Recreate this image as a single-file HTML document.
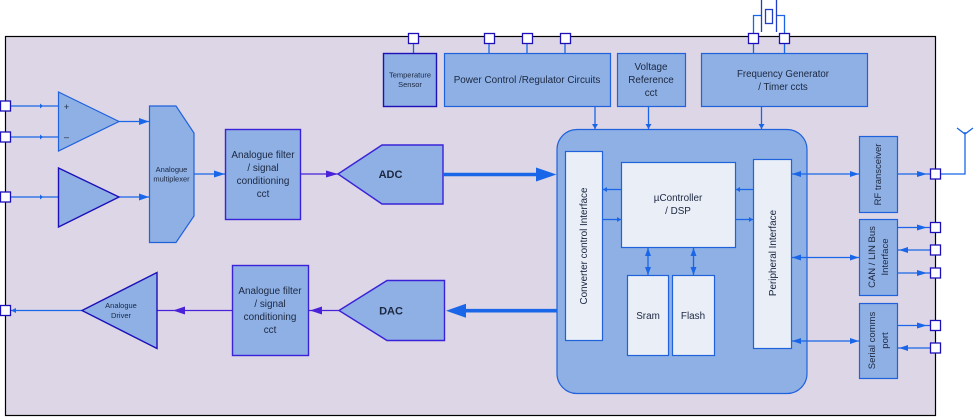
<!DOCTYPE html>
<html><head><meta charset="utf-8"><style>
html,body{margin:0;padding:0;background:#fff;width:974px;height:417px;overflow:hidden}
svg{display:block}
text{font-family:"Liberation Sans",sans-serif;fill:#1c2740;text-anchor:middle}
.b{fill:#8eb0e4;stroke:#1f62dc;stroke-width:1.2}
.d{fill:#8eb0e4;stroke:#1c10b8;stroke-width:1.4}
.p{fill:#8eb0e4;stroke:#3a22d8;stroke-width:1.4}
.l{fill:#e9eef7;stroke:#1f62dc;stroke-width:1.2}
.pin{fill:#fff;stroke:#1c10b8;stroke-width:1.3}
.w{fill:none;stroke:#1a66e8;stroke-width:1.3}
.v{fill:none;stroke:#4a20d8;stroke-width:1.3}
.c{fill:none;stroke:#1f3fc8;stroke-width:1.3}
.a{fill:#1a66e8}
.q{fill:#4a20d8}
</style></head><body>
<svg width="974" height="417" viewBox="0 0 974 417" xmlns="http://www.w3.org/2000/svg">
<rect x="5.500" y="36.500" width="930" height="379" fill="#ddd6e6" stroke="#000" stroke-width="1.200"/>

<!-- crystal -->
<path class="w" d="M753.500 33V15.500H761M784.500 33V15.500H777"/>
<path class="c" d="M761.500 0V32M776.500 0V32"/>
<rect x="765.500" y="9.500" width="7" height="14" class="c"/>
<!-- antenna -->
<path class="w" d="M940 174H965V132M957 128L965 134L973 128"/>

<!-- left wires -->
<path class="w" d="M10 106H58M10 137H58M10 197H58M119 121.500H149M119 197H149M194 174H226"/>
<polygon class="a" points="40,103.500 43,106 40,108.500"/><polygon class="a" points="40,134.500 43,137 40,139.500"/><polygon class="a" points="40,194.500 43,197 40,199.500"/>
<polygon class="a" points="139,118 149,121.500 139,125"/><polygon class="a" points="139,193.500 149,197 139,200.500"/><polygon class="a" points="214,170.500 225,174 214,177.500"/>
<path class="v" d="M300 174H338M157 310.500H233M308 310.500H339"/>
<polygon class="q" points="326,170.500 338,174 326,177.500"/>
<polygon class="q" points="173,310.500 185,306.500 185,314.500"/><polygon class="q" points="310,310.500 322,306.500 322,314.500"/>
<path class="w" d="M10 310.500H82"/><polygon class="a" points="11,310.500 16,308 16,313"/>

<!-- amps -->
<polygon class="b" points="58.500,92 119,121.500 58.500,151"/>
<text x="66.500" y="110" font-size="9">+</text><text x="66.500" y="140" font-size="9">–</text>
<polygon class="d" points="58.500,168 119,197 58.500,227"/>
<polygon class="b" points="149.500,106 176,106 194,133 194,216 176,242.500 149.500,242.500"/>
<text x="171.500" y="172" font-size="7.500">Analogue</text><text x="171.500" y="181.500" font-size="7.500">multiplexer</text>
<rect class="p" x="225.500" y="129.500" width="75" height="90"/>
<text x="263" y="158" font-size="9.900">Analogue filter</text><text x="263" y="171" font-size="9.900">/ signal</text><text x="263" y="184" font-size="9.900">conditioning</text><text x="263" y="197" font-size="9.900">cct</text>
<polygon class="p" points="338,174 382,145 443,145 443,204 382,204"/>
<text x="390.500" y="178" font-size="11" font-weight="bold">ADC</text>
<rect class="p" x="232.500" y="265.500" width="76" height="90"/>
<text x="270" y="294" font-size="9.900">Analogue filter</text><text x="270" y="307" font-size="9.900">/ signal</text><text x="270" y="320" font-size="9.900">conditioning</text><text x="270" y="333" font-size="9.900">cct</text>
<polygon class="p" points="339,310.500 387,280.500 444.500,280.500 444.500,340.500 387,340.500"/>
<text x="391" y="314.500" font-size="11" font-weight="bold">DAC</text>
<polygon class="d" points="82,310.500 157,272.500 157,348.500"/>
<text x="121" y="308" font-size="7.500">Analogue</text><text x="121" y="318" font-size="7.500">Driver</text>

<!-- top blocks -->
<path class="w" d="M413.500 43V54M489 43V54M527 43V54M565 43V54M753.500 43V54M784.500 43V54M595 106V129M648.500 106V129M761.500 106V129"/>
<polygon class="a" points="592,124 598,124 595,129"/><polygon class="a" points="645.500,124 651.500,124 648.500,129"/><polygon class="a" points="758.500,124 764.500,124 761.500,129"/>
<rect class="d" x="383.500" y="53.500" width="53" height="53"/>
<text x="410" y="77.500" font-size="7.500">Temperature</text><text x="410" y="87" font-size="7.500">Sensor</text>
<rect class="b" x="444.500" y="53.500" width="166" height="53"/>
<text x="527" y="83" font-size="9.900">Power Control /Regulator Circuits</text>
<rect class="b" x="617.500" y="53.500" width="68" height="53"/>
<text x="651" y="70" font-size="9.900">Voltage</text><text x="651" y="83" font-size="9.900">Reference</text><text x="651" y="96" font-size="9.900">cct</text>
<rect class="b" x="701.500" y="53.500" width="166" height="53"/>
<text x="783" y="77" font-size="9.700">Frequency Generator</text><text x="783" y="90" font-size="9.700">/ Timer ccts</text>

<!-- core -->
<rect class="b" x="557" y="129.500" width="250" height="264" rx="20" ry="20"/>
<rect class="l" x="565.500" y="151.500" width="37" height="189"/>
<text transform="translate(587 246) rotate(-90)" font-size="9.900">Converter control Interface</text>
<rect class="l" x="621.500" y="162.500" width="114" height="85"/>
<text x="678" y="201" font-size="9.900">µController</text><text x="678" y="214" font-size="9.900">/ DSP</text>
<rect class="l" x="753.500" y="159.500" width="38" height="189"/>
<text transform="translate(776 253) rotate(-90)" font-size="9.900">Peripheral Interface</text>
<rect class="l" x="627.500" y="275.500" width="41" height="80"/>
<text x="648" y="319" font-size="9.900">Sram</text>
<rect class="l" x="672.500" y="275.500" width="42" height="80"/>
<text x="693" y="319" font-size="9.900">Flash</text>

<!-- inner arrows -->
<path class="w" d="M603 189.500H621M603 219.500H621M736 189.500H753M736 219.500H753M648 248V275M693.500 248V275"/>
<polygon class="a" points="603,189.500 607,187 607,192"/><polygon class="a" points="621,219.500 617,217 617,222"/>
<polygon class="a" points="736,189.500 740,187 740,192"/><polygon class="a" points="753,219.500 749,217 749,222"/>
<polygon class="a" points="648,248 651,256 645,256"/><polygon class="a" points="648,275 651,267 645,267"/>
<polygon class="a" points="693.500,248 696.500,256 690.500,256"/><polygon class="a" points="693.500,275 696.500,267 690.500,267"/>

<!-- bus arrows -->
<path d="M443 174.500H540" stroke="#1a66e8" stroke-width="3.600" fill="none"/>
<polygon class="a" points="556.500,174.500 536,167.500 536,181.500"/>
<path d="M462 310.700H557" stroke="#1a66e8" stroke-width="3.600" fill="none"/>
<polygon class="a" points="446,310.700 466,303.700 466,317.700"/>

<!-- peripherals -->
<path class="w" d="M792 174H859M792 257.500H859M792 341H859"/>
<polygon class="a" points="792,174 801,171 801,177"/><polygon class="a" points="859,174 850,171 850,177"/>
<polygon class="a" points="792,257.500 801,254.500 801,260.500"/><polygon class="a" points="859,257.500 850,254.500 850,260.500"/>
<polygon class="a" points="792,341 801,338 801,344"/><polygon class="a" points="859,341 850,338 850,344"/>
<rect class="b" x="859.500" y="136.500" width="38" height="76"/>
<text transform="translate(881 174.500) rotate(-90)" font-size="9.500">RF transceiver</text>
<rect class="b" x="859.500" y="219.500" width="38" height="76"/>
<text transform="translate(875 257) rotate(-90)" font-size="9.500">CAN / LIN Bus</text><text transform="translate(888 257) rotate(-90)" font-size="9.500">Interface</text>
<rect class="b" x="859.500" y="303.500" width="38" height="75"/>
<text transform="translate(875 340.500) rotate(-90)" font-size="9.500">Serial comms</text><text transform="translate(888 340.500) rotate(-90)" font-size="9.500">port</text>
<path class="w" d="M897 174H930M897 227.500H930M897 250H930M897 273H930M897 325.500H930M897 348H930"/>
<polygon class="a" points="927,174 917,171 917,177"/><polygon class="a" points="927,227.500 917,224.500 917,230.500"/>
<polygon class="a" points="899,250 908,247 908,253"/><polygon class="a" points="927,273 917,270 917,276"/>
<polygon class="a" points="927,325.500 917,322.500 917,328.500"/><polygon class="a" points="899,348 908,345 908,351"/>

<!-- pins -->
<rect class="pin" x="0.500" y="101" width="10" height="10"/><rect class="pin" x="0.500" y="132" width="10" height="10"/><rect class="pin" x="0.500" y="192" width="10" height="10"/><rect class="pin" x="0.500" y="305.500" width="10" height="10"/>
<rect class="pin" x="408.500" y="33.500" width="10" height="10"/><rect class="pin" x="484.500" y="33.500" width="10" height="10"/><rect class="pin" x="522.500" y="33.500" width="10" height="10"/><rect class="pin" x="560.500" y="33.500" width="10" height="10"/><rect class="pin" x="748.500" y="33.500" width="10" height="10"/><rect class="pin" x="779.500" y="33.500" width="10" height="10"/>
<rect class="pin" x="930.500" y="169" width="10" height="10"/><rect class="pin" x="930.500" y="222.500" width="10" height="10"/><rect class="pin" x="930.500" y="245" width="10" height="10"/><rect class="pin" x="930.500" y="268" width="10" height="10"/><rect class="pin" x="930.500" y="320.500" width="10" height="10"/><rect class="pin" x="930.500" y="343" width="10" height="10"/>
</svg>
</body></html>
